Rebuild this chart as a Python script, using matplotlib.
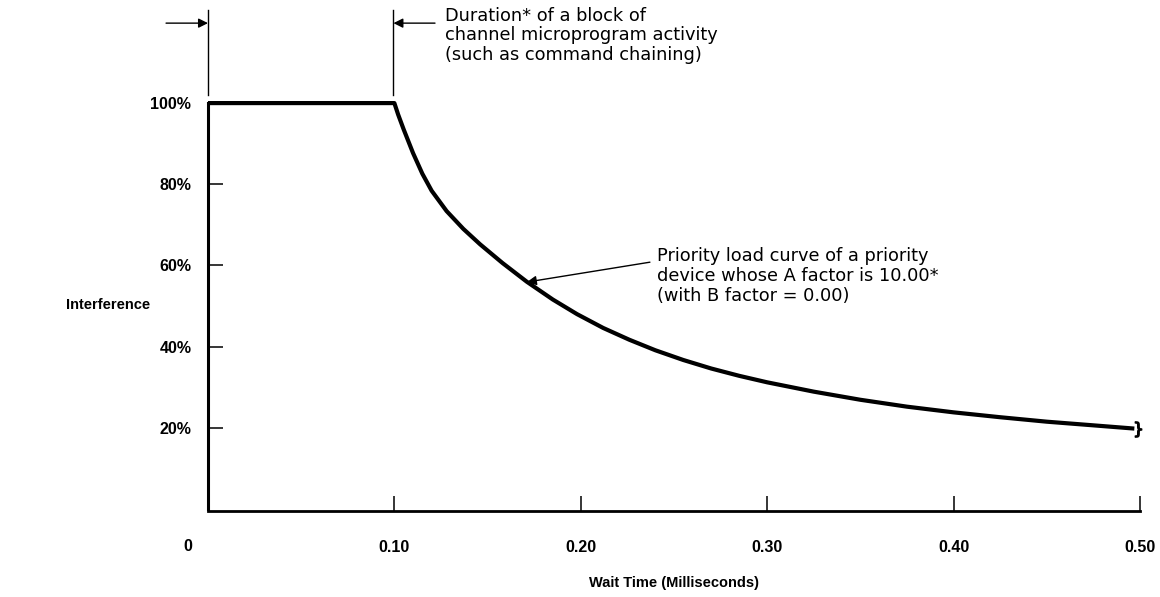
import numpy as np
import matplotlib
matplotlib.use("Agg")
import matplotlib.pyplot as plt

plt.rcParams['font.family'] = ['Liberation Sans', 'DejaVu Sans']

# Valeurs (temps en ms, interference en %)
wait_ms = [0.0, 0.100, 0.102, 0.105, 0.110, 0.115, 0.120, 0.128, 0.137,
           0.146, 0.158, 0.171, 0.185, 0.198, 0.212, 0.226, 0.240, 0.255,
           0.270, 0.285, 0.300, 0.325, 0.350, 0.375, 0.400, 0.425, 0.450,
           0.475, 0.497]
interference = [100, 100, 97.2, 93.5, 87.7, 82.6, 78.4, 73.4, 69.0,
                65.2, 60.6, 56.0, 51.6, 48.0, 44.6, 41.7, 39.1, 36.7,
                34.6, 32.8, 31.2, 28.9, 26.9, 25.2, 23.8, 22.6, 21.5,
                20.6, 19.8]

xticks = [0.10, 0.20, 0.30, 0.40, 0.50]
xtick_labels = ["0.10", "0.20", "0.30", "0.40", "0.50"]
yticks = [20, 40, 60, 80, 100]
ytick_labels = ["20%", "40%", "60%", "80%", "100%"]

note_block = "Duration* of a block of\nchannel microprogram activity\n(such as command chaining)"
note_curve = "Priority load curve of a priority\ndevice whose A factor is 10.00*\n(with B factor = 0.00)"

fig = plt.figure(figsize=(11.6, 5.97), dpi=100)
ax = fig.add_axes([0.1793, 0.1441, 0.8034, 0.8559])
ax.set_xlim(0, 0.5)
ax.set_ylim(-0.5, 125.4)

# courbe de charge
ax.plot(wait_ms, interference, color='black', lw=3.0, solid_capstyle='butt',
        solid_joinstyle='round', clip_on=False, zorder=3)
# marque de coupure au bout de la courbe
ax.plot(wait_ms[-1] + 0.002, interference[-1], marker=r'$\}$', color='black',
        markersize=11, clip_on=False)

# axes
for side in ['top', 'right']:
    ax.spines[side].set_visible(False)
ax.spines['left'].set_linewidth(2.2)
ax.spines['left'].set_bounds(0, 100)
ax.spines['bottom'].set_linewidth(2.0)

ax.set_yticks(yticks)
ax.set_yticklabels(ytick_labels, fontsize=11.5, fontweight='bold')
ax.tick_params(axis='y', direction='in', length=11, width=1.1, pad=12)

ax.set_xticks(xticks)
ax.set_xticklabels(xtick_labels, fontsize=11.5, fontweight='bold')
ax.tick_params(axis='x', direction='in', length=11, width=1.1, pad=21)
ax.text(-0.0107, -9.2, "0", fontsize=11.5, fontweight='bold', ha='center',
        va='center', clip_on=False)

ax.text(0.25, -18.2, "Wait Time (Milliseconds)", fontsize=10.5,
        fontweight='bold', ha='center', va='center', clip_on=False)
ax.text(-0.0536, 50.2, "Interference", fontsize=10.5, fontweight='bold',
        ha='center', va='center', clip_on=False)

# traits de cote au dessus du graphe
ax.plot([0, 0], [102, 122.9], color='black', lw=1.0, clip_on=False)
ax.plot([0.0995, 0.0995], [102, 122.9], color='black', lw=1.0, clip_on=False)
ax.annotate("", xy=(0, 119.7), xytext=(-0.0225, 119.7),
            arrowprops=dict(arrowstyle='-|>', color='black', lw=1.0,
                            mutation_scale=14, shrinkA=0, shrinkB=0),
            annotation_clip=False)
ax.annotate("", xy=(0.0995, 119.7), xytext=(0.1218, 119.7),
            arrowprops=dict(arrowstyle='-|>', color='black', lw=1.0,
                            mutation_scale=14, shrinkA=0, shrinkB=0),
            annotation_clip=False)
ax.text(0.127, 116.7, note_block, fontsize=12.8, family=['DejaVu Sans'],
        ha='left', va='center', linespacing=1.12, clip_on=False)

# fleche vers la courbe
ax.annotate("", xy=(0.1711, 55.9), xytext=(0.2371, 60.8),
            arrowprops=dict(arrowstyle='-|>', color='black', lw=1.0,
                            mutation_scale=14, shrinkA=0, shrinkB=0))
ax.text(0.2409, 57.4, note_curve, fontsize=12.8, family=['DejaVu Sans'],
        ha='left', va='center', linespacing=1.12)

fig.savefig("out.png", dpi=100)
